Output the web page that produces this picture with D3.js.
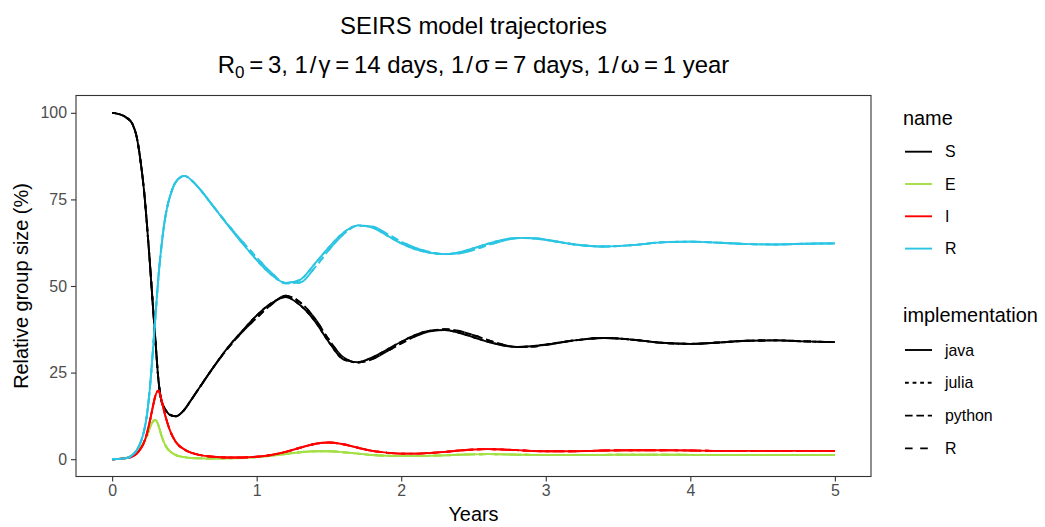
<!DOCTYPE html>
<html>
<head>
<meta charset="utf-8">
<script src="https://cdn.jsdelivr.net/npm/d3@7"></script>
<style>
  body { margin: 0; background: #fff; }
  text { font-family: "Liberation Sans", Arial, sans-serif; }
</style>
</head>
<body>
<div id="chart"></div>
<script>
// Time grid (years) shared by every trajectory
var years = [0, 0.05, 0.1, 0.14, 0.17, 0.2, 0.22, 0.24, 0.26, 0.28,
             0.3, 0.32, 0.34, 0.36, 0.38, 0.4, 0.44, 0.5, 0.55, 0.6,
             0.7, 0.8, 0.9, 1.0, 1.1, 1.2, 1.3, 1.4, 1.5, 1.6,
             1.7, 1.8, 1.9, 2.0, 2.1, 2.2, 2.3, 2.4, 2.5, 2.6,
             2.7, 2.8, 2.9, 3.0, 3.2, 3.4, 3.6, 3.8, 4.0, 4.2,
             4.4, 4.6, 4.8, 5.0];

// Relative group sizes (%)
var sVals = [100, 99.6, 98.6, 96.8, 93.0, 85.0, 77.8, 68.2, 57.3, 45.5,
             34.0, 23.0, 17.0, 14.9, 13.6, 12.8, 12.4, 14.3, 17.3, 20.4,
             26.5, 32.2, 37.0, 41.5, 45.0, 46.8, 44.5, 40.0, 33.8, 28.8,
             28.0, 29.4, 31.6, 33.9, 35.9, 37.1, 37.3, 36.5, 35.2, 33.9,
             32.9, 32.4, 32.6, 33.1, 34.3, 35.0, 34.5, 33.6, 33.3, 33.7,
             34.2, 34.3, 34.0, 33.8];
var eVals = [0, 0.1, 0.4, 1.0, 1.9, 3.5, 4.9, 6.6, 8.9, 10.8,
             11.3, 9.8, 7.0, 4.7, 3.2, 2.3, 1.2, 0.6, 0.35, 0.25,
             0.2, 0.25, 0.35, 0.6, 1.0, 1.5, 2.0, 2.3, 2.3, 2.0,
             1.6, 1.2, 1.0, 0.9, 0.9, 1.0, 1.1, 1.3, 1.4, 1.45,
             1.4, 1.3, 1.25, 1.2, 1.2, 1.25, 1.3, 1.3, 1.25, 1.2,
             1.2, 1.2, 1.2, 1.2];
var iVals = [0, 0.1, 0.3, 0.8, 1.6, 3.2, 4.8, 7.3, 10.8, 14.8,
             18.4, 19.8, 17.4, 13.8, 10.8, 8.3, 5.0, 2.8, 1.8, 1.25,
             0.7, 0.5, 0.5, 0.7, 1.2, 2.1, 3.3, 4.4, 4.8, 4.3,
             3.3, 2.4, 1.9, 1.6, 1.6, 1.8, 2.1, 2.5, 2.8, 2.9,
             2.8, 2.6, 2.4, 2.3, 2.3, 2.5, 2.6, 2.6, 2.5, 2.4,
             2.4, 2.4, 2.4, 2.4];
var rVals = [0, 0.1, 0.3, 1.2, 2.6, 5.2, 8.0, 12.5, 20.0, 30.2,
             41.5, 52.5, 61.0, 67.8, 72.6, 75.8, 80.0, 81.8, 80.5, 78.3,
             73.0, 67.6, 62.4, 57.5, 53.3, 50.9, 51.8, 56.3, 61.2, 65.4,
             67.5, 66.9, 64.6, 62.3, 60.6, 59.6, 59.2, 59.7, 60.9, 62.2,
             63.3, 63.9, 63.8, 63.3, 62.0, 61.4, 61.8, 62.6, 62.8, 62.5,
             62.1, 62.0, 62.2, 62.3];

// python and R runs lag a little behind in S and R
var sValsAlt = [100, 99.6, 98.6, 96.8, 93.0, 85.0, 77.8, 68.2, 57.3, 45.5,
                34.0, 23.0, 17.0, 14.9, 13.6, 12.8, 12.4, 14.3, 17.3, 20.4,
                26.5, 32.0, 36.7, 40.8, 44.6, 47.2, 45.3, 40.8, 34.5, 29.4,
                27.9, 28.9, 31.1, 33.4, 35.5, 36.9, 37.5, 37.0, 35.8, 34.4,
                33.1, 32.4, 32.5, 33.0, 34.3, 35.0, 34.5, 33.6, 33.3, 33.7,
                34.2, 34.3, 34.0, 33.8];
var rValsAlt = [0, 0.1, 0.3, 1.2, 2.6, 5.2, 8.0, 12.5, 20.0, 30.2,
                41.5, 52.5, 61.0, 67.8, 72.6, 75.8, 80.0, 81.8, 80.5, 78.3,
                73.0, 67.8, 62.9, 58.2, 53.9, 50.8, 51.0, 55.2, 60.4, 64.9,
                67.4, 67.2, 65.1, 62.8, 61.0, 59.8, 59.2, 59.4, 60.4, 61.8,
                63.0, 63.8, 63.9, 63.4, 62.0, 61.4, 61.8, 62.6, 62.8, 62.5,
                62.1, 62.0, 62.2, 62.3];

var names = ["S", "E", "I", "R"];
var implementations = ["java", "julia", "python", "R"];
var laggedImplementations = ["python", "R"];
var xTicks = [0, 1, 2, 3, 4, 5];
var yTicks = [0, 25, 50, 75, 100];

// styles
var nameColors = { S: "#000000", E: "#A3E046", I: "#FF0000", R: "#2BC5E3" };
var lineWidth = 1.9;
var dashes = { java: null, julia: "3.8,3.8", python: "7.6,3.8", R: "7.6,7.6" };

var width = 1045;
var height = 527;
var panel = { left: 76, right: 871, top: 95.5, bottom: 476.5 };

var svg = d3.select("#chart")
            .append("svg")
            .attr("width", width)
            .attr("height", height);

svg.append("rect")
   .attr("width", width)
   .attr("height", height)
   .attr("fill", "#fff");

var x = d3.scaleLinear().domain([-0.25, 5.25]).range([panel.left, panel.right]);
var y = d3.scaleLinear().domain([-5, 105]).range([panel.bottom, panel.top]);

var line = d3.line()
             .x(function(d, i) { return x(years[i]); })
             .y(function(d) { return y(d); })
             .curve(d3.curveMonotoneX);

var valuesByName = { S: sVals, E: eVals, I: iVals, R: rVals };
var laggedByName = { S: sValsAlt, R: rValsAlt };

// one path per (name, implementation), name order controls stacking
var lines = svg.append("g").attr("class", "lines");
names.forEach(function(n) {
    implementations.forEach(function(impl) {
        var vals = valuesByName[n];
        if (laggedImplementations.indexOf(impl) >= 0 && laggedByName[n]) {
            vals = laggedByName[n];
        }
        lines.append("path")
             .attr("d", line(vals))
             .attr("fill", "none")
             .attr("stroke", nameColors[n])
             .attr("stroke-width", lineWidth)
             .attr("stroke-dasharray", dashes[impl]);
    });
});

// panel border
svg.append("rect")
   .attr("x", panel.left)
   .attr("y", panel.top)
   .attr("width", panel.right - panel.left)
   .attr("height", panel.bottom - panel.top)
   .attr("fill", "none")
   .attr("stroke", "#333")
   .attr("stroke-width", 1.1);

// axes
var xAxis = svg.append("g")
               .attr("transform", "translate(0," + panel.bottom + ")")
               .call(d3.axisBottom(x).tickValues(xTicks).tickFormat(d3.format("d"))
                       .tickSize(5).tickPadding(3));
var yAxis = svg.append("g")
               .attr("transform", "translate(" + panel.left + ",0)")
               .call(d3.axisLeft(y).tickValues(yTicks).tickFormat(d3.format("d"))
                       .tickSize(5).tickPadding(4));

[xAxis, yAxis].forEach(function(a) {
    a.select(".domain").remove();
    a.selectAll(".tick line").attr("stroke", "#333").attr("stroke-width", 1.1);
    a.selectAll(".tick text")
     .attr("fill", "#4D4D4D")
     .style("font-size", "15.9px")
     .style("font-family", "'Liberation Sans', Arial, sans-serif");
});

// axis titles
svg.append("text")
   .attr("x", (panel.left + panel.right) / 2)
   .attr("y", 520.5)
   .attr("text-anchor", "middle")
   .style("font-size", "19.9px")
   .text("Years");

svg.append("text")
   .attr("transform", "translate(28," + ((panel.top + panel.bottom) / 2) + ") rotate(-90)")
   .attr("text-anchor", "middle")
   .style("font-size", "19.9px")
   .text("Relative group size (%)");

// title, two lines
var cx = (panel.left + panel.right) / 2;
svg.append("text")
   .attr("x", cx)
   .attr("y", 34.3)
   .attr("text-anchor", "middle")
   .style("font-size", "23.9px")
   .text("SEIRS model trajectories");

var sub = svg.append("text")
             .attr("x", cx)
             .attr("y", 73.3)
             .attr("text-anchor", "middle")
             .style("font-size", "23.9px");
sub.append("tspan").text("R");
sub.append("tspan").attr("dy", 5).style("font-size", "17px").text("0");
sub.append("tspan").attr("dy", -5)
   .text("\u2009=\u20093, 1\u200A/\u200A\u03B3\u2009=\u200914 days, 1\u200A/\u200A\u03C3\u2009=\u20097 days, 1\u200A/\u200A\u03C9\u2009=\u20091 year");

// legends
var legendX = 903;

function legendBlock(title, titleY, keys, keyY0, step, styler) {
    var g = svg.append("g");
    g.append("text")
     .attr("x", legendX)
     .attr("y", titleY)
     .style("font-size", "19.9px")
     .text(title);
    keys.forEach(function(k, i) {
        var ky = keyY0 + i * step;
        var ln = g.append("line")
                  .attr("x1", 905).attr("x2", 932)
                  .attr("y1", ky).attr("y2", ky)
                  .attr("stroke-width", lineWidth);
        styler(ln, k);
        g.append("text")
         .attr("x", 945)
         .attr("y", ky)
         .attr("dy", "0.35em")
         .style("font-size", "15.9px")
         .text(k);
    });
}

legendBlock("name", 125, names, 151.7, 32.3, function(ln, k) {
    ln.attr("stroke", nameColors[k]);
});
legendBlock("implementation", 322, implementations, 350, 32.8, function(ln, k) {
    ln.attr("stroke", "#000").attr("stroke-dasharray", dashes[k]);
});
</script>
</body>
</html>
